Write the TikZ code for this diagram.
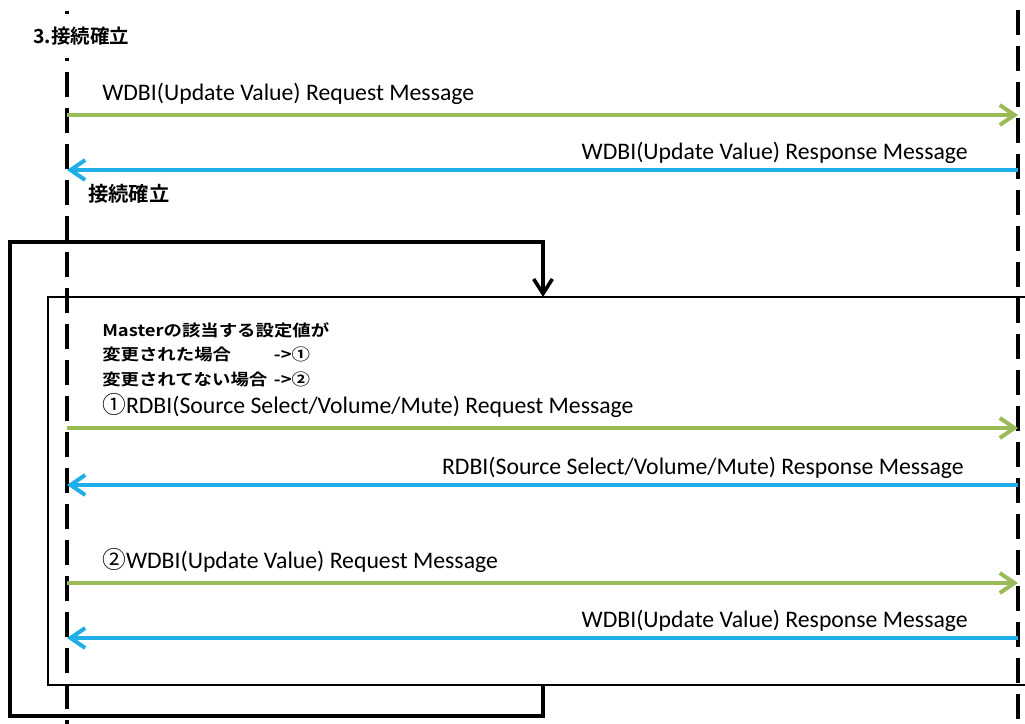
\documentclass[tikz,border=0pt]{standalone}
\usepackage{fontspec}
\setmainfont{Carlito}
\newfontfamily\jpfont{Noto Sans CJK JP}[BoldFont={Noto Sans CJK JP Bold}]
\newfontfamily\jpwide{Noto Sans CJK JP}[BoldFont={Noto Sans CJK JP Bold},FakeStretch=1.15]
\usetikzlibrary{arrows.meta}
\definecolor{reqgreen}{HTML}{9BBB59}
\definecolor{respblue}{HTML}{1EAFE8}
\begin{document}
\begin{tikzpicture}[x=0.75pt,y=-0.75pt,
    lifeline/.style={line width=2.7pt,dash pattern=on 18.75pt off 8.25pt},
    req/.style={draw=reqgreen,line width=3pt,-{Straight Barb[length=11pt,width=15pt]}},
    resp/.style={draw=respblue,line width=3pt,-{Straight Barb[length=11pt,width=15pt]}},
    msg/.style={inner sep=0pt,font=\fontsize{17.8}{21}\selectfont},
    jp/.style={inner sep=0pt,font=\jpfont\bfseries\fontsize{14.6}{17}\selectfont},
    loopframe/.style={line width=1.6pt},
    loopline/.style={line width=2.7pt,-{Straight Barb[length=11pt,width=14pt]}}]
  \useasboundingbox (0,0) rectangle (1025,724);
  \clip (0,0) rectangle (1025,724);
  \coordinate (lt) at (67,11);
  \coordinate (lb) at (67,724);
  \coordinate (rt) at (1018,10);
  \coordinate (rb) at (1018,724);
  \draw[lifeline,dash phase=8.25pt] (lt) -- (lb);
  \draw[lifeline] (rt) -- (rb);
  \node[jp,fill=white,minimum height=33pt,anchor=west] (title) at (33,36) {3.接続確立};

  \draw[loopframe] (48,297) rectangle (1040,685);
  \coordinate (loopout) at (543,685);
  \coordinate (loopin) at (543,297);
  \draw[loopline] (loopout) -- (543,716) -- (10,716) -- (10,242) -- (543,242) -- (loopin);

  \foreach \n/\y in {1/115,2/170,3/428,4/485,5/583,6/638}{
    \coordinate (L\n) at (67,\y);
    \coordinate (R\n) at (1018,\y);}
  \draw[req] (L1) -- (R1);
  \draw[resp] (R2) -- (L2);
  \draw[req] (L3) -- (R3);
  \draw[resp] (R4) -- (L4);
  \draw[req] (L5) -- (R5);
  \draw[resp] (R6) -- (L6);

  \node[msg,anchor=base west] (req1) at (102,100.5) {WDBI(Update Value) Request Message};
  \node[msg,anchor=base east] (resp1) at (968,159) {WDBI(Update Value) Response Message};
  \node[jp,font=\jpfont\bfseries\fontsize{15.2}{17}\selectfont,anchor=west] (done) at (88,194) {接続確立};
  \node[inner sep=0pt,anchor=north west,font=\jpwide\bfseries\fontsize{12}{18.4}\selectfont] (cond) at (102,319)
    {\begin{tabular}{@{}l@{\hspace{5pt}}l@{}}
      \multicolumn{2}{@{}l@{}}{Masterの該当する設定値が}\\
      変更された場合 & ->①\\
      変更されてない場合 & ->②
    \end{tabular}};
  \node[msg,anchor=base west] (req2) at (102,413.5) {{\jpfont ①}RDBI(Source Select/Volume/Mute) Request Message};
  \node[msg,anchor=base east] (resp2) at (964,474) {RDBI(Source Select/Volume/Mute) Response Message};
  \node[msg,anchor=base west] (req3) at (102,568.5) {{\jpfont ②}WDBI(Update Value) Request Message};
  \node[msg,anchor=base east] (resp3) at (968,627) {WDBI(Update Value) Response Message};
\end{tikzpicture}
\end{document}
